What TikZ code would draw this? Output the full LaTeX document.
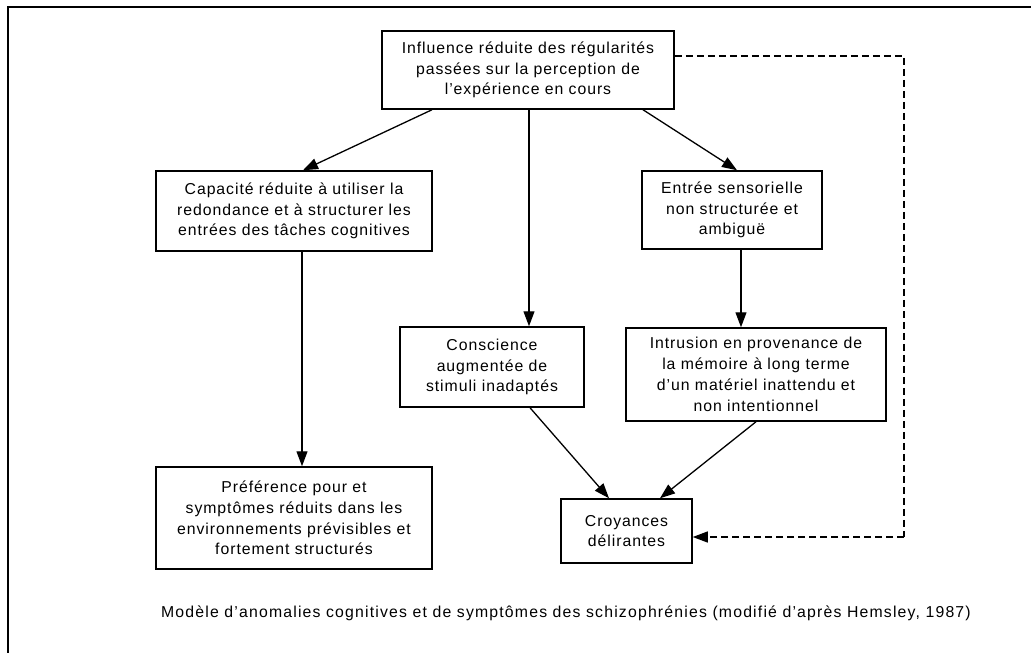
\documentclass[tikz,border=0pt]{standalone}
\usepackage{fontspec}
\setmainfont{Liberation Sans}[LetterSpace=6]
\usetikzlibrary{arrows.meta,calc}
\begin{document}
\begin{tikzpicture}[x=1pt,y=-1pt,
  box/.style={draw,line width=1.5pt,inner sep=0pt,align=center,
    font=\fontsize{15.8}{20.8}\selectfont},
  arr/.style={line width=1.3pt,-{Triangle[length=15pt,width=11pt]}},
  dsh/.style={line width=1.3pt,dash pattern=on 7pt off 4pt}]
\useasboundingbox (0,0) rectangle (1031,653);
\draw[line width=2.4pt] (8,653) -- (8,7) -- (1031,7);
\node[box,minimum width=292pt,minimum height=78pt] (top) at (528,70)
  {Influence réduite des régularités\\passées sur la perception de\\l’expérience en cours};
\node[box,minimum width=276pt,minimum height=80pt] (cap) at (294,211)
  {Capacité réduite à utiliser la\\redondance et à structurer les\\entrées des tâches cognitives};
\node[box,minimum width=180pt,minimum height=78pt] (ent) at (732,210)
  {Entrée sensorielle\\non structurée et\\ambiguë};
\node[box,minimum width=184pt,minimum height=80pt] (con) at (492,367)
  {Conscience\\augmentée de\\stimuli inadaptés};
\node[box,minimum width=260pt,minimum height=93pt] (intr) at (756,374.5)
  {Intrusion en provenance de\\la mémoire à long terme\\d’un matériel inattendu et\\non intentionnel};
\node[box,minimum width=276pt,minimum height=102pt] (pref) at (294,518)
  {Préférence pour et\\symptômes réduits dans les\\environnements prévisibles et\\fortement structurés};
\node[box,minimum width=131pt,minimum height=64pt] (croy) at (626.5,531)
  {Croyances\\délirantes};
\node[font=\fontsize{15.8}{19}\selectfont\addfontfeature{LetterSpace=7.5}] (cap2) at (566,613)
  {Modèle d’anomalies cognitives et de symptômes des schizophrénies (modifié d’après Hemsley, 1987)};
\draw[arr] ($(top.south)+(-96,0)$) -- ($(cap.north)+(9,0)$);
\draw[arr] ($(top.south)+(1,0)$) -- (con.north -| {$(top.south)+(1,0)$});
\draw[arr] ($(top.south)+(115,0)$) -- ($(ent.north)+(5,0)$);
\draw[arr] ($(cap.south)+(8,0)$) -- ($(pref.north)+(8,0)$);
\draw[arr] ($(ent.south)+(9,0)$) -- ($(intr.north)+(-15,0)$);
\draw[arr] ($(con.south)+(38,0)$) -- ($(croy.north)+(-17.5,0)$);
\draw[arr] (intr.south) -- ($(croy.north)+(33.5,0)$);
\coordinate (c1) at (904,56);
\coordinate (c2) at (904,537);
\draw[dsh] (top.east |- c1) -- (c1) -- (c2);
\draw[dsh,-{Triangle[length=15pt,width=11pt]}] (c2) -- (croy.east |- c2);
\end{tikzpicture}
\end{document}
